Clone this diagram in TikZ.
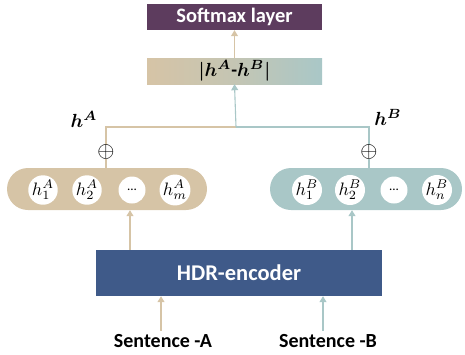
\documentclass[tikz,border=0pt]{standalone}
\usepackage{fontspec}
\usepackage{bm}
\usepackage{graphicx}
\setmainfont{Carlito}
\usetikzlibrary{arrows.meta}
\definecolor{tan}{HTML}{D6C4A6}
\definecolor{teal}{HTML}{A9C7C7}
\definecolor{plum}{HTML}{5D3C5E}
\definecolor{navy}{HTML}{3F5A89}
\newcommand{\mbig}[2]{\scalebox{#1}{\fontsize{10}{12}\selectfont #2}}
\begin{document}
\begin{tikzpicture}[x=1pt,y=-1pt,
  lbl/.style={font=\fontsize{20}{22}\selectfont\bfseries},
  hlbl/.style={inner sep=1pt},
  pillA/.style={fill=tan,rounded corners=21pt,minimum width=200pt,minimum height=42pt,inner sep=0pt},
  pillB/.style={fill=teal,rounded corners=21pt,minimum width=192pt,minimum height=42pt,inner sep=0pt},
  cell/.style={circle,fill=white,minimum size=27pt,inner sep=0pt},
  tanline/.style={draw=tan,line width=1.1pt},
  tealline/.style={draw=teal,line width=1.1pt},
  tip/.style={-{Triangle[width=7pt,length=6pt]}},
  plus/.style={fill=white,inner sep=0pt}
]
\useasboundingbox (0,0) rectangle (465,354);
% boxes
\node[fill=plum,minimum width=175pt,minimum height=26pt,inner sep=0pt,text=white,font=\fontsize{20.5}{22}\selectfont\bfseries] (soft) at (234.5,17) {Softmax layer};
\node[shading=axis,left color=tan,right color=teal,middle color=tan!60!teal,minimum width=175pt,minimum height=26pt,inner sep=0pt] (diff) at (234.5,71) {\mbig{1.9}{$\bm{|h^{A}}\mbox{\bfseries -}\bm{h^{B}|}$}};
\node[fill=navy,minimum width=286pt,minimum height=46pt,inner sep=0pt,text=white,font=\fontsize{22.5}{24}\selectfont\bfseries] (enc) at (239,273) {HDR-encoder};
% pills
\node[pillA] (pa) at (107,189) {};
\node[pillB] (pb) at (366,189) {};
\node[cell] (a1) at (43,190) {\mbig{1.8}{$h_1^A$}};
\node[cell] (a2) at (87,190) {\mbig{1.8}{$h_2^A$}};
\node[cell] (a3) at (132,190) {\fontsize{13}{14}\selectfont ...};
\node[cell] (a4) at (175,190) {\mbig{1.8}{$h_m^A$}};
\node[cell] (b1) at (307,190) {\mbig{1.8}{$h_1^B$}};
\node[cell] (b2) at (350,190) {\mbig{1.8}{$h_2^B$}};
\node[cell] (b3) at (394,190) {\fontsize{13}{14}\selectfont ...};
\node[cell] (b4) at (437,190) {\mbig{1.8}{$h_n^B$}};
% sentences
\node[lbl] (sa) at (163,341) {Sentence -A};
\node[lbl] (sb) at (328,341) {Sentence -B};
% coordinates
\coordinate (ja) at (106,127);
\coordinate (jm) at (236,127);
\coordinate (jb) at (369,127);
\coordinate (pat) at (106,168);
\coordinate (pbt) at (369,168);
% connectors
\draw[tanline] (pat) -- (ja) -- (jm);
\draw[tealline] (jm) -- (jb) -- (pbt);
\draw[tealline,tip] (jm) -- (diff.south);
\draw[tanline,tip] (diff.north) -- (soft.south);
\node[plus] (pla) at (106,152) {\mbig{2.2}{$\oplus$}};
\node[plus] (plb) at (369,152) {\mbig{2.2}{$\oplus$}};
\node[hlbl] (ha) at (84,119) {\mbig{1.9}{$\bm{h^A}$}};
\node[hlbl] (hb) at (388,117) {\mbig{1.9}{$\bm{h^B}$}};
\draw[tanline,tip] (enc.north -| 130,0) -- (pa.south -| 130,0);
\draw[tealline,tip] (enc.north -| 352,0) -- (pb.south -| 352,0);
\draw[tanline,tip] (sa.north -| 161,0) -- (enc.south -| 161,0);
\draw[tealline,tip] (sb.north -| 323,0) -- (enc.south -| 323,0);
\end{tikzpicture}
\end{document}
